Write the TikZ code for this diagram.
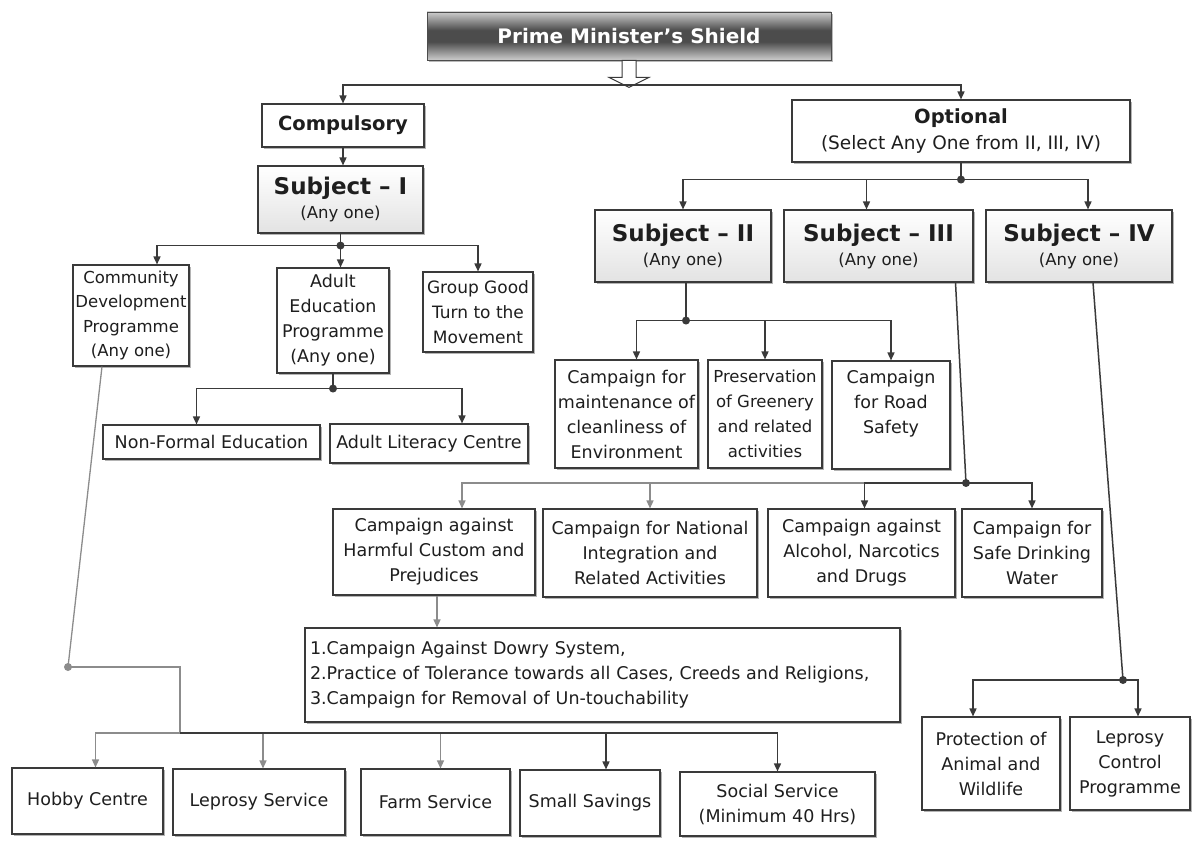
\documentclass[tikz,border=0pt]{standalone}
\usepackage{fontspec}
\setmainfont{DejaVu Sans}
\usetikzlibrary{arrows.meta,shadows,calc}
\definecolor{ln}{HTML}{3A3A3A}
\definecolor{lnl}{HTML}{8C8C8C}
\definecolor{tx}{HTML}{1E1E1E}
\pgfdeclareverticalshading{metal}{100bp}{color(0bp)=(gray!75); color(25bp)=(gray!40); color(44bp)=(gray!60!black); color(56bp)=(gray!60!black); color(75bp)=(gray!40); color(100bp)=(gray!80)}
\tikzset{
  box/.style={draw=ln, line width=1.1pt, fill=white, align=center, inner sep=2pt,
    text=tx, font=\fontsize{17.5}{25}\selectfont,
    drop shadow={shadow xshift=1.5pt, shadow yshift=-2.2pt, fill=gray!65, opacity=0.9}},
  sbox/.style={box, top color=white, bottom color=gray!22},
  hdr/.style={font=\fontsize{19.5}{26}\selectfont\bfseries},
  conn/.style={draw=ln, line width=1.5pt, -{Triangle[length=8pt,width=7pt]}},
  lconn/.style={draw=lnl, line width=1.3pt, -{Triangle[length=8pt,width=7pt]}},
  wire/.style={draw=ln, line width=1.5pt},
  lwire/.style={draw=lnl, line width=1.3pt},
}
\newcommand{\subj}[1]{{\fontsize{23}{30}\selectfont\bfseries Subject -- #1}\\[-1pt]{\fontsize{16.5}{22}\selectfont (Any one)}}
\begin{document}
\begin{tikzpicture}[x=1pt,y=-1pt]
\useasboundingbox (0,0) rectangle (1192,843);

% ---------- title ----------
\node[draw=gray!60!black, line width=0.8pt, shading=metal, minimum width=404pt, minimum height=48pt,
  text=white, font=\fontsize{20}{26}\selectfont\bfseries,
  drop shadow={shadow xshift=1.5pt, shadow yshift=-2pt, fill=black!55}] (title) at (629,36) {Prime Minister's Shield};
\draw[ln, line width=1pt, fill=white]
  ($(title.south)+(-7,0)$) -- ($(title.south)+(7,0)$) -- ($(title.south)+(7,17)$) -- ($(title.south)+(20,17)$)
  -- ($(title.south)+(0,27)$) -- ($(title.south)+(-20,17)$) -- ($(title.south)+(-7,17)$) -- cycle;
\coordinate (tb) at (629,85);

% ---------- left branch ----------
\node[box, hdr, minimum width=162pt, minimum height=43pt] (comp) at (343,125.5) {Compulsory};
\node[sbox, minimum width=165pt, minimum height=67pt] (sub1) at (340.5,199.5) {\subj{I}};

\node[box, minimum width=116pt, minimum height=101pt, font=\fontsize{16.5}{24.5}\selectfont] (comm) at (131,315.5) {Community\\Development\\Programme\\(Any one)};
\node[box, minimum width=112pt, minimum height=105pt] (adult) at (333,320.5) {Adult\\Education\\Programme\\(Any one)};
\node[box, minimum width=110pt, minimum height=80pt, font=\fontsize{17}{25}\selectfont] (group) at (478,312) {Group Good\\Turn to the\\Movement};

\node[box, minimum width=217pt, minimum height=34pt] (nonf) at (211.5,442) {Non-Formal Education};
\node[box, minimum width=198pt, minimum height=39pt] (lit) at (429,443.5) {Adult Literacy Centre};

\node[box, minimum width=151pt, minimum height=66pt] (hobby) at (87.5,801) {Hobby Centre};
\node[box, minimum width=172pt, minimum height=66pt] (lep) at (259,802) {Leprosy Service};
\node[box, minimum width=149pt, minimum height=66pt] (farm) at (435.5,802) {Farm Service};
\node[box, minimum width=140pt, minimum height=66pt] (small) at (590,803) {Small Savings};
\node[box, minimum width=195pt, minimum height=64pt] (social) at (777.5,804) {Social Service\\(Minimum 40 Hrs)};

% ---------- right branch ----------
\node[box, minimum width=338pt, minimum height=62pt] (opt) at (961,131)
  {{\fontsize{19.5}{24}\selectfont\bfseries Optional}\\[1pt]{\fontsize{18.5}{24}\selectfont (Select Any One from II, III, IV)}};
\node[sbox, minimum width=176pt, minimum height=72pt] (sub2) at (683,246) {\subj{II}};
\node[sbox, minimum width=189pt, minimum height=72pt] (sub3) at (878.5,246) {\subj{III}};
\node[sbox, minimum width=186pt, minimum height=72pt] (sub4) at (1079,246) {\subj{IV}};

\node[box, minimum width=143pt, minimum height=108pt] (maint) at (626.5,414) {Campaign for\\maintenance of\\cleanliness of\\Environment};
\node[box, minimum width=114pt, minimum height=108pt, font=\fontsize{16.5}{25}\selectfont] (pres) at (765,414) {Preservation\\of Greenery\\and related\\activities};
\node[box, minimum width=118pt, minimum height=108pt, text depth=26pt] (road) at (891,415) {Campaign\\for Road\\Safety};

\node[box, minimum width=202pt, minimum height=86pt] (harm) at (434,552) {Campaign against\\Harmful Custom and\\Prejudices};
\node[box, minimum width=214pt, minimum height=88pt] (nat) at (650,553) {Campaign for National\\Integration and\\Related Activities};
\node[box, minimum width=187pt, minimum height=88pt] (alc) at (861.5,553) {Campaign against\\Alcohol, Narcotics\\and Drugs};
\node[box, minimum width=140pt, minimum height=88pt] (safe) at (1032,553) {Campaign for\\Safe Drinking\\Water};

\node[box, minimum width=595pt, minimum height=94pt, align=left, text width=585pt, inner sep=4pt,
  font=\fontsize{17.5}{25}\selectfont] (list) at (602.5,675)
  {1.Campaign Against Dowry System,\\2.Practice of Tolerance towards all Cases, Creeds and Religions,\\3.Campaign for Removal of Un-touchability};

\node[box, minimum width=138pt, minimum height=93pt] (prot) at (991,763.5) {Protection of\\Animal and\\Wildlife};
\node[box, minimum width=120pt, minimum height=93pt] (lepc) at (1130,763.5) {Leprosy\\Control\\Programme};

% ---------- connectors: top ----------
\draw[conn] (tb) -| (comp.north);
\draw[conn] (tb) -| (opt.north);

% left
\draw[conn] (comp.south) -- (comp.south |- sub1.north);
\path (sub1.south) ++(0,12) coordinate (d1);
\draw[wire] (sub1.south) -- (d1);
\draw[conn] (d1) -| ([xshift=26pt]comm.north);
\draw[conn] (d1) -- (d1 |- adult.north);
\draw[conn] (d1) -| (group.north);
\fill[ln] (d1) circle (4pt);

\path (adult.south) ++(0,15) coordinate (d2);
\draw[wire] (adult.south) -- (d2);
\draw[conn] (d2) -| ([xshift=-15pt]nonf.north);
\draw[conn] (d2) -| ([xshift=33pt]lit.north);
\fill[ln] (d2) circle (4pt);

\coordinate (d3) at (68,667);
\coordinate (b4) at (180,733);
\draw[lwire] ([xshift=-29pt]comm.south) -- (d3);
\draw[lwire] (d3) -| (b4);
\draw[lconn] (b4) -| ([xshift=8pt]hobby.north);
\draw[lconn] (b4) -| ([xshift=4pt]lep.north);
\draw[lconn] (b4) -| ([xshift=5pt]farm.north);
\draw[conn] (b4) -| ([xshift=16pt]small.north);
\draw[conn] (b4) -| (social.north);
\fill[lnl] (d3) circle (4pt);

% right
\path (opt.south) ++(0,17) coordinate (d5);
\draw[wire] (opt.south) -- (d5);
\draw[conn] (d5) -| (sub2.north);
\draw[conn] (d5) -| ([xshift=-12pt]sub3.north);
\draw[conn] (d5) -| ([xshift=9pt]sub4.north);
\fill[ln] (d5) circle (4pt);

\path ([xshift=3pt]sub2.south) ++(0,38) coordinate (d6);
\draw[wire] ([xshift=3pt]sub2.south) -- (d6);
\draw[conn] (d6) -| ([xshift=10pt]maint.north);
\draw[conn] (d6) -| (pres.north);
\draw[conn] (d6) -| (road.north);
\fill[ln] (d6) circle (4pt);

\coordinate (d7) at (966,483);
\draw[wire] ([xshift=77pt]sub3.south) -- (d7);
\draw[lconn] (d7) -| ([xshift=28pt]harm.north);
\draw[lconn] (d7) -| (nat.north);
\draw[conn] (d7) -| ([xshift=3pt]alc.north);
\draw[conn] (d7) -| (safe.north);
\fill[ln] (d7) circle (4pt);

\draw[lconn] ([xshift=3pt]harm.south) -- ([xshift=3pt]harm.south |- list.north);

\coordinate (d8) at (1123,680);
\draw[wire] ([xshift=14pt]sub4.south) -- (d8);
\draw[conn] (d8) -| ([xshift=-18pt]prot.north);
\draw[conn] (d8) -| ([xshift=8pt]lepc.north);
\fill[ln] (d8) circle (4pt);
\end{tikzpicture}
\end{document}
